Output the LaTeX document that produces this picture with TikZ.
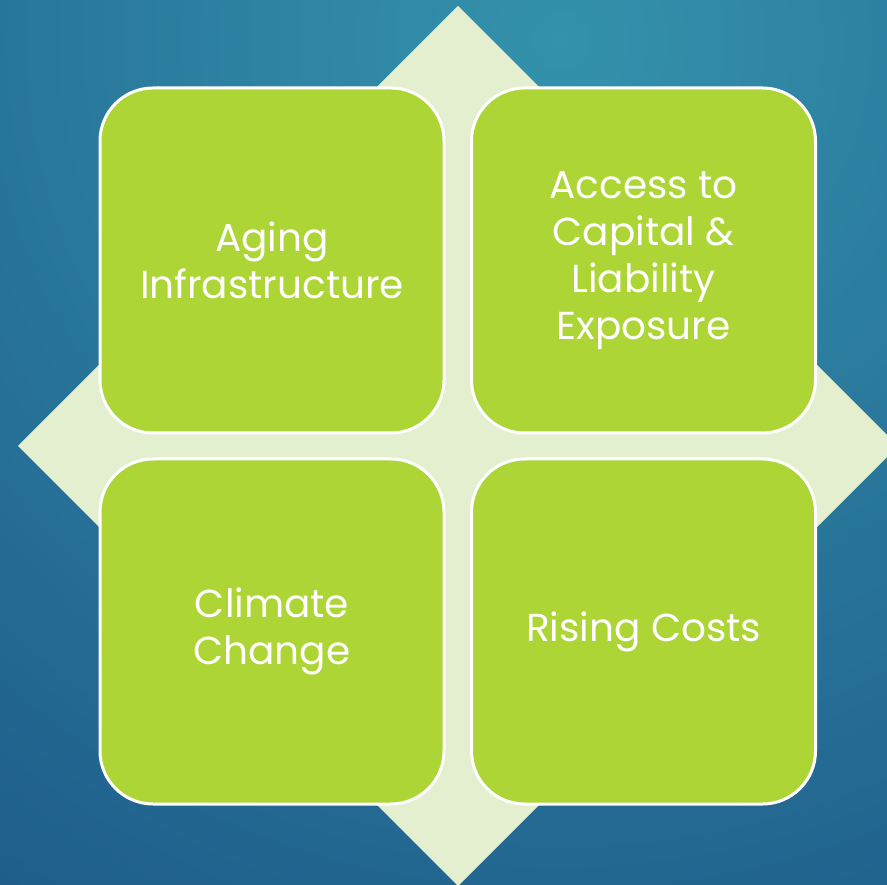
\documentclass[tikz,border=0pt]{standalone}
\usepackage{fontspec}
\setmainfont{Poppins}
\definecolor{bginner}{RGB}{52,146,172}
\definecolor{bgouter}{RGB}{30,92,138}
\definecolor{diamondfill}{RGB}{228,239,208}
\definecolor{boxfill}{RGB}{173,213,53}
\tikzset{
  quadbox/.style={draw=white, line width=3pt, fill=boxfill, rounded corners=53pt,
    minimum width=344pt, minimum height=345pt, inner sep=0pt, text=white,
    align=center, font=\fontsize{39}{47}\selectfont}
}
\begin{document}
\begin{tikzpicture}[x=1pt,y=-1pt]
\useasboundingbox (0,0) rectangle (887,885);
\begin{scope}
\clip (0,0) rectangle (887,885);
\shade[inner color=bginner, outer color=bgouter] (560,40) circle (1050);
\fill[diamondfill] (458,6) -- (898,446) -- (458,886) -- (18,446) -- cycle;
\end{scope}
\node[quadbox] (tl) at (272,260.5) {Aging\\Infrastructure};
\node[quadbox] (tr) at (643.5,260.5) {Access to\\Capital \&\\Liability\\Exposure};
\node[quadbox] (bl) at (272,631.5) {Climate\\Change};
\node[quadbox] (br) at (643.5,631.5) {Rising Costs};
\end{tikzpicture}
\end{document}
